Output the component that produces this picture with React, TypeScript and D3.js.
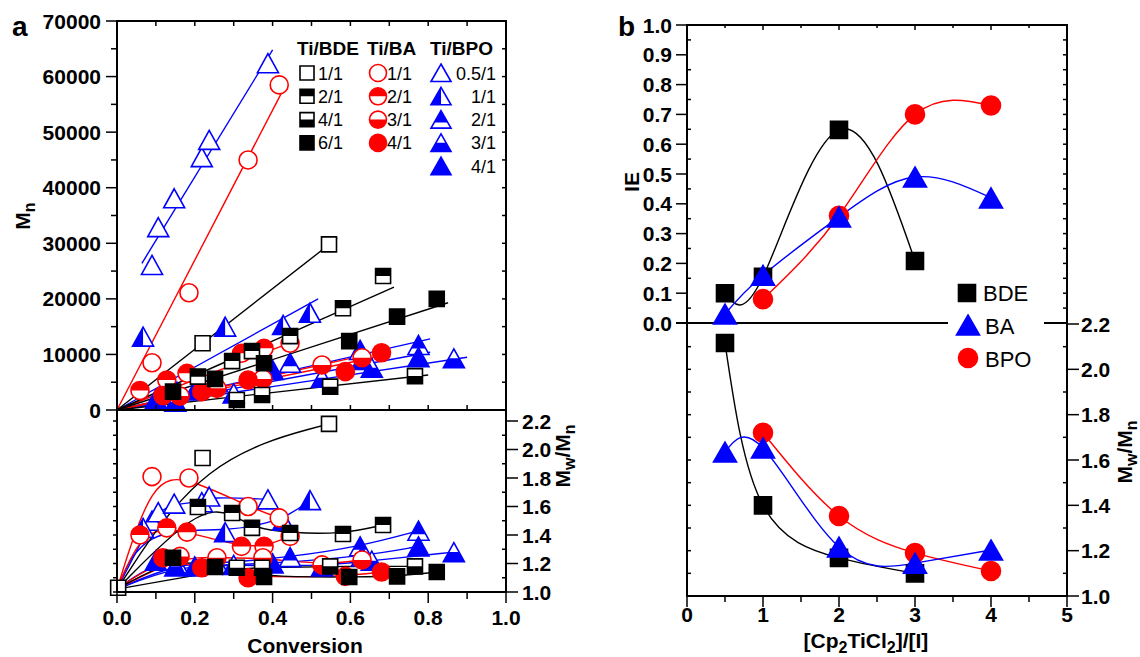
import React from 'react';
import * as d3 from 'd3';

const FONT = "'Liberation Sans', Arial, Helvetica, sans-serif";
const BLACK = '#000000';
const RED = '#ff0000';
const BLUE = '#0000ff';

// ---------------- Panel a data ----------------
// Ti/BDE
const bde11MnConv = [0.22, 0.545];
const bde11Mn = [12000, 29800];
const bde11Fit = [0, 0, 0.566, 30900];
const bde11PdiConv = [0.003, 0.22, 0.545];
const bde11Pdi = [1.03, 1.94, 2.18];

const bde21Conv = [0.208, 0.296, 0.347, 0.445, 0.581, 0.684];
const bde21Mn = [6000, 8800, 10600, 13300, 18300, 24100];
const bde21Fit = [0, 0, 0.712, 22100];
const bde21Pdi = [1.596, 1.554, 1.45, 1.414, 1.407, 1.47];

const bde41Conv = [0.308, 0.373, 0.548, 0.766];
const bde41Mn = [1800, 2700, 4200, 6100];
const bde41Fit = [0, 0, 0.8, 6300];
const bde41Pdi = [1.17, 1.17, 1.18, 1.18];

const bde61Conv = [0.144, 0.252, 0.378, 0.597, 0.72, 0.822];
const bde61Mn = [3300, 5600, 8400, 12400, 16800, 20000];
const bde61Fit = [0, 0, 0.851, 19300];
const bde61Pdi = [1.24, 1.175, 1.105, 1.105, 1.11, 1.14];

// Ti/BA
const ba11Conv = [0.09, 0.185, 0.337, 0.417];
const ba11Mn = [8500, 21100, 45000, 58500];
const ba11Fit = [0, 0, 0.427, 57600];
const ba11Pdi = [1.81, 1.8, 1.6, 1.52];

const ba21Conv = [0.059, 0.128, 0.18, 0.32, 0.378, 0.445];
const ba21Mn = [3500, 5400, 6600, 10200, 11100, 12000];
const ba21Fit = [0, 0, 0.46, 12500];
const ba21Pdi = [1.4, 1.45, 1.42, 1.32, 1.32, 1.39];

const ba31Conv = [0.162, 0.257, 0.375, 0.527, 0.63];
const ba31Mn = [2500, 3900, 5600, 8100, 9400];
const ba31Fit = [0, 0, 0.62, 9600];
const ba31Pdi = [1.25, 1.24, 1.24, 1.19, 1.225];

const ba41Conv = [0.118, 0.218, 0.337, 0.587, 0.68];
const ba41Mn = [2600, 3300, 5400, 6900, 10300];
const ba41Fit = [0, 0, 0.658, 9400];
const ba41Pdi = [1.24, 1.17, 1.1, 1.11, 1.14];

// Ti/BPO
const bpo051Conv = [0.09, 0.106, 0.147, 0.218, 0.237, 0.388];
const bpo051Mn = [26100, 32900, 38100, 45500, 48600, 62400];
const bpo051Fit = [0.064, 26400, 0.4, 64800];
const bpo051Pdi = [1.5, 1.56, 1.62, 1.63, 1.67, 1.65];

const bpo11Conv = [0.067, 0.278, 0.427, 0.496];
const bpo11Mn = [13200, 15000, 15300, 17500];
const bpo11Fit = [0, 0, 0.517, 20000];
const bpo11Pdi = [1.45, 1.42, 1.5, 1.645];

const bpo21Conv = [0.154, 0.257, 0.445, 0.625, 0.775];
const bpo21Mn = [3300, 5000, 8500, 10800, 11700];
const bpo21Fit = [0, 0, 0.805, 12800];
const bpo21Pdi = [1.2, 1.2, 1.245, 1.32, 1.43];

const bpo31Conv = [0.15, 0.3, 0.527, 0.655, 0.866];
const bpo31Mn = [1500, 3000, 5800, 7600, 9300];
const bpo31Fit = [0, 0, 0.9, 9500];
const bpo31Pdi = [1.18, 1.19, 1.18, 1.22, 1.28];

const bpo41Conv = [0.1, 0.2, 0.4, 0.63, 0.775];
const bpo41Mn = [2000, 3500, 7200, 9000, 9500];
const bpo41Fit = [0, 0, 0.805, 10400];
const bpo41Pdi = [1.22, 1.18, 1.2, 1.25, 1.32];

const PDI_START: [number, number] = [0, 1.02];

// ---------------- Panel b data ----------------
const bdeRatio = [0.5, 1, 2, 3];
const bdeIE = [0.1, 0.155, 0.648, 0.208];
const bdePdiB = [2.116, 1.4, 1.168, 1.1];
const baRatio = [0.5, 1, 2, 3, 4];
const baIE = [0.03, 0.16, 0.356, 0.49, 0.42];
const baPdiB = [1.635, 1.653, 1.216, 1.145, 1.203];
const bpoRatio = [1, 2, 3, 4];
const bpoIE = [0.08, 0.36, 0.7, 0.73];
const bpoPdiB = [1.72, 1.353, 1.19, 1.11];

// tick labels
const mnTicks = [0, 10000, 20000, 30000, 40000, 50000, 60000, 70000];
const convTicks = [0, 0.2, 0.4, 0.6, 0.8, 1.0];
const pdiTicks = [1.0, 1.2, 1.4, 1.6, 1.8, 2.0, 2.2];
const ieTicks = [0, 0.1, 0.2, 0.3, 0.4, 0.5, 0.6, 0.7, 0.8, 0.9, 1.0];
const ratioTicks = [0, 1, 2, 3, 4, 5];

type Kind = 'open' | 'full' | 'top' | 'bottom' | 'left' | 'top68';
type Shape = 'square' | 'circle' | 'triangle';

interface Series {
  color: string; shape: Shape; kind: Kind; label: string;
  mnConv: number[]; mn: number[]; fit: number[];
  pdiConv: number[]; pdi: number[];
}

const bdeSeries: Series[] = [
  { color: BLACK, shape: 'square', kind: 'open', label: '1/1', mnConv: bde11MnConv, mn: bde11Mn, fit: bde11Fit, pdiConv: bde11PdiConv, pdi: bde11Pdi },
  { color: BLACK, shape: 'square', kind: 'top', label: '2/1', mnConv: bde21Conv, mn: bde21Mn, fit: bde21Fit, pdiConv: bde21Conv, pdi: bde21Pdi },
  { color: BLACK, shape: 'square', kind: 'bottom', label: '4/1', mnConv: bde41Conv, mn: bde41Mn, fit: bde41Fit, pdiConv: bde41Conv, pdi: bde41Pdi },
  { color: BLACK, shape: 'square', kind: 'full', label: '6/1', mnConv: bde61Conv, mn: bde61Mn, fit: bde61Fit, pdiConv: bde61Conv, pdi: bde61Pdi },
];
const baSeries: Series[] = [
  { color: RED, shape: 'circle', kind: 'open', label: '1/1', mnConv: ba11Conv, mn: ba11Mn, fit: ba11Fit, pdiConv: ba11Conv, pdi: ba11Pdi },
  { color: RED, shape: 'circle', kind: 'top', label: '2/1', mnConv: ba21Conv, mn: ba21Mn, fit: ba21Fit, pdiConv: ba21Conv, pdi: ba21Pdi },
  { color: RED, shape: 'circle', kind: 'bottom', label: '3/1', mnConv: ba31Conv, mn: ba31Mn, fit: ba31Fit, pdiConv: ba31Conv, pdi: ba31Pdi },
  { color: RED, shape: 'circle', kind: 'full', label: '4/1', mnConv: ba41Conv, mn: ba41Mn, fit: ba41Fit, pdiConv: ba41Conv, pdi: ba41Pdi },
];
const bpoSeries: Series[] = [
  { color: BLUE, shape: 'triangle', kind: 'open', label: '0.5/1', mnConv: bpo051Conv, mn: bpo051Mn, fit: bpo051Fit, pdiConv: bpo051Conv, pdi: bpo051Pdi },
  { color: BLUE, shape: 'triangle', kind: 'left', label: '1/1', mnConv: bpo11Conv, mn: bpo11Mn, fit: bpo11Fit, pdiConv: bpo11Conv, pdi: bpo11Pdi },
  { color: BLUE, shape: 'triangle', kind: 'top68', label: '2/1', mnConv: bpo21Conv, mn: bpo21Mn, fit: bpo21Fit, pdiConv: bpo21Conv, pdi: bpo21Pdi },
  { color: BLUE, shape: 'triangle', kind: 'bottom', label: '3/1', mnConv: bpo31Conv, mn: bpo31Mn, fit: bpo31Fit, pdiConv: bpo31Conv, pdi: bpo31Pdi },
  { color: BLUE, shape: 'triangle', kind: 'full', label: '4/1', mnConv: bpo41Conv, mn: bpo41Mn, fit: bpo41Fit, pdiConv: bpo41Conv, pdi: bpo41Pdi },
];

// ---------------- scales ----------------
const xa = d3.scaleLinear().domain([0, 1]).range([117, 506]);
const yMn = d3.scaleLinear().domain([0, 70000]).range([410, 21]);
const yPdi = d3.scaleLinear().domain([1.0, 2.2]).range([592, 421]);
const xb = d3.scaleLinear().domain([0, 5]).range([687, 1067]);
const yIE = d3.scaleLinear().domain([0, 1]).range([323, 25]);
const yPdiB = d3.scaleLinear().domain([1.0, 2.2]).range([596, 324]);

function shapePath(shape: Shape, big: boolean): string {
  if (shape === 'square') {
    const s = big ? 17 : 15;
    return `M${-s / 2},${-s / 2}h${s}v${s}h${-s}Z`;
  }
  if (shape === 'circle') {
    const r = big ? 9.5 : 9;
    return `M${-r},0a${r},${r} 0 1,0 ${2 * r},0a${r},${r} 0 1,0 ${-2 * r},0Z`;
  }
  const w = big ? 23 : 21;
  const h = big ? 20 : 19;
  return `M0,${-h / 2}L${w / 2},${h / 2}L${-w / 2},${h / 2}Z`;
}

function legendPath(shape: Shape): string {
  if (shape === 'square') return `M-7,-7h14v14h-14Z`;
  if (shape === 'circle') return `M-8.5,0a8.5,8.5 0 1,0 17,0a8.5,8.5 0 1,0 -17,0Z`;
  return `M0,-9L10,8.5L-10,8.5Z`;
}

const clipId: Record<Kind, string | null> = {
  open: null, full: null, top: 'clipTop', bottom: 'clipBottom', left: 'clipLeft', top68: 'clipTop68',
};

function Marker({ x, y, d, color, kind }: { x: number; y: number; d: string; color: string; kind: Kind }) {
  const sw = 1.6;
  if (kind === 'full') {
    return <path transform={`translate(${x},${y})`} d={d} fill={color} stroke={color} strokeWidth={sw} />;
  }
  const cid = clipId[kind];
  return (
    <g transform={`translate(${x},${y})`}>
      <path d={d} fill="#ffffff" stroke="none" />
      {cid && <path d={d} fill={color} clipPath={`url(#${cid})`} />}
      <path d={d} fill="none" stroke={color} strokeWidth={sw} />
    </g>
  );
}

const zip = (a: number[], b: number[]): [number, number][] => a.map((v, i) => [v, b[i]]);

export default function App() {
  const allA = [...bpoSeries, ...baSeries, ...bdeSeries];
  const pdiLine = d3.line<[number, number]>().x(d => xa(d[0])).y(d => yPdi(d[1])).curve(d3.curveBasis);
  const ieLine = d3.line<[number, number]>().x(d => xb(d[0])).y(d => yIE(d[1])).curve(d3.curveNatural);
  const pdiBLine = d3.line<[number, number]>().x(d => xb(d[0])).y(d => yPdiB(d[1])).curve(d3.curveNatural);

  const axisStroke = { stroke: BLACK, strokeWidth: 2, fill: 'none' } as const;
  const tickStroke = { stroke: BLACK, strokeWidth: 1.5 } as const;
  const tickFont = { fontFamily: FONT, fontWeight: 700, fontSize: 21 } as const;
  const titleFont = { fontFamily: FONT, fontWeight: 700, fontSize: 21 } as const;

  const bSeries = [
    { color: BLACK, shape: 'square' as Shape, x: bdeRatio, ie: bdeIE, pdi: bdePdiB, name: 'BDE' },
    { color: BLUE, shape: 'triangle' as Shape, x: baRatio, ie: baIE, pdi: baPdiB, name: 'BA' },
    { color: RED, shape: 'circle' as Shape, x: bpoRatio, ie: bpoIE, pdi: bpoPdiB, name: 'BPO' },
  ];
  const bDrawOrder = [bSeries[0], bSeries[2], bSeries[1]];

  return (
    <svg width={1140} height={657} style={{ position: 'absolute', left: 0, top: 0, background: '#ffffff' }}>
      <defs>
        <clipPath id="clipTop" clipPathUnits="objectBoundingBox"><rect x={0} y={0} width={1} height={0.5} /></clipPath>
        <clipPath id="clipBottom" clipPathUnits="objectBoundingBox"><rect x={0} y={0.5} width={1} height={0.5} /></clipPath>
        <clipPath id="clipLeft" clipPathUnits="objectBoundingBox"><rect x={0} y={0} width={0.5} height={1} /></clipPath>
        <clipPath id="clipTop68" clipPathUnits="objectBoundingBox"><rect x={0} y={0} width={1} height={0.68} /></clipPath>
      </defs>
      <rect x={0} y={0} width={1140} height={657} fill="#ffffff" />

      {/* ================= Panel a ================= */}
      {allA.map((s, i) => (
        <line key={`fit${i}`} x1={xa(s.fit[0])} y1={yMn(s.fit[1])} x2={xa(s.fit[2])} y2={yMn(s.fit[3])}
          stroke={s.color} strokeWidth={1.4} />
      ))}
      {allA.map((s, i) => {
        const pts = zip(s.pdiConv, s.pdi);
        const full = pts[0][0] < 0.01 ? pts : [PDI_START, ...pts];
        return <path key={`pc${i}`} d={pdiLine(full) || ''} fill="none" stroke={s.color} strokeWidth={1.4} />;
      })}
      {allA.map((s, i) => (
        <g key={`mm${i}`}>
          {s.mnConv.map((c, j) => (
            <Marker key={j} x={xa(c)} y={yMn(s.mn[j])} d={shapePath(s.shape, false)} color={s.color} kind={s.kind} />
          ))}
        </g>
      ))}
      {allA.map((s, i) => (
        <g key={`pm${i}`}>
          {s.pdiConv.map((c, j) => (
            <Marker key={j} x={xa(c)} y={yPdi(s.pdi[j])} d={shapePath(s.shape, false)} color={s.color} kind={s.kind} />
          ))}
        </g>
      ))}

      {/* frame a */}
      <line x1={117} y1={21} x2={117} y2={592} {...axisStroke} />
      <line x1={506} y1={21} x2={506} y2={592} {...axisStroke} />
      <line x1={116} y1={21} x2={507} y2={21} {...axisStroke} />
      <line x1={116} y1={410} x2={507} y2={410} {...axisStroke} />
      <line x1={116} y1={592} x2={507} y2={592} {...axisStroke} />

      {d3.range(0, 70001, 5000).map(v => (
        <line key={`lm${v}`} x1={117} x2={v % 10000 === 0 ? 106 : 111} y1={yMn(v)} y2={yMn(v)} {...tickStroke} />
      ))}
      {mnTicks.map(v => (
        <text key={`lmt${v}`} x={101} y={yMn(v) + 7.5} textAnchor="end" {...tickFont}>{v}</text>
      ))}
      {d3.range(5000, 70000, 5000).map(v => (
        <line key={`rm${v}`} x1={506} x2={502} y1={yMn(v)} y2={yMn(v)} {...tickStroke} />
      ))}
      {d3.range(0.1, 1.0, 0.1).map(v => (
        <g key={`tt${v}`}>
          <line x1={xa(v)} x2={xa(v)} y1={21} y2={26} {...tickStroke} />
          <line x1={xa(v)} x2={xa(v)} y1={410} y2={405} {...tickStroke} />
        </g>
      ))}
      {d3.range(1.0, 2.25, 0.1).map(v => (
        <line key={`lb${v}`} x1={117} x2={113} y1={yPdi(v)} y2={yPdi(v)} {...tickStroke} />
      ))}
      {d3.range(0, 1.0001, 0.1).map((v, i) => (
        <line key={`bx${i}`} x1={xa(v)} x2={xa(v)} y1={592} y2={i % 2 === 0 ? 603 : 599} {...tickStroke} />
      ))}
      {convTicks.map(v => (
        <text key={`bxt${v}`} x={xa(v)} y={625} textAnchor="middle" {...tickFont}>{v.toFixed(1)}</text>
      ))}
      {d3.range(1.0, 2.25, 0.1).map((v, i) => (
        i % 2 === 0
          ? <line key={`rp${i}`} x1={506} x2={518} y1={yPdi(v)} y2={yPdi(v)} {...tickStroke} />
          : <line key={`rp${i}`} x1={506} x2={502} y1={yPdi(v)} y2={yPdi(v)} {...tickStroke} />
      ))}
      {pdiTicks.map(v => (
        <text key={`rpt${v}`} x={522} y={yPdi(v) + 7.5} textAnchor="start" {...tickFont}>{v.toFixed(1)}</text>
      ))}

      {/* titles a */}
      <text x={12} y={36} fontFamily={FONT} fontWeight={700} fontSize={28}>a</text>
      <text x={305} y={653} textAnchor="middle" {...titleFont}>Conversion</text>
      <text transform="translate(30,216) rotate(-90)" textAnchor="middle" {...titleFont}>
        M<tspan dy={5} fontSize={16}>n</tspan>
      </text>
      <text transform="translate(570,456) rotate(-90)" textAnchor="middle" {...titleFont}>
        M<tspan dy={5} fontSize={16}>w</tspan><tspan dy={-5}>/M</tspan><tspan dy={5} fontSize={16}>n</tspan>
      </text>

      {/* legend a */}
      <text x={297} y={55} fontFamily={FONT} fontWeight={700} fontSize={19}>Ti/BDE</text>
      <text x={367} y={55} fontFamily={FONT} fontWeight={700} fontSize={19}>Ti/BA</text>
      <text x={430} y={55} fontFamily={FONT} fontWeight={700} fontSize={19}>Ti/BPO</text>
      {bdeSeries.map((s, i) => (
        <g key={`lgd${i}`}>
          <Marker x={307} y={73 + i * 23.3} d={legendPath(s.shape)} color={s.color} kind={s.kind} />
          <text x={318} y={73 + i * 23.3 + 6.5} fontFamily={FONT} fontSize={18}>{s.label}</text>
        </g>
      ))}
      {baSeries.map((s, i) => (
        <g key={`lga${i}`}>
          <Marker x={378} y={73 + i * 23.3} d={legendPath(s.shape)} color={s.color} kind={s.kind} />
          <text x={387} y={73 + i * 23.3 + 6.5} fontFamily={FONT} fontSize={18}>{s.label}</text>
        </g>
      ))}
      {bpoSeries.map((s, i) => (
        <g key={`lgp${i}`}>
          <Marker x={441} y={73 + i * 23.3} d={legendPath(s.shape)} color={s.color} kind={s.kind} />
          <text x={496} y={73 + i * 23.3 + 6.5} textAnchor="end" fontFamily={FONT} fontSize={18}>{s.label}</text>
        </g>
      ))}

      {/* ================= Panel b ================= */}
      <line x1={687} y1={25} x2={687} y2={596} {...axisStroke} />
      <line x1={1067} y1={25} x2={1067} y2={596} {...axisStroke} />
      <line x1={686} y1={25} x2={1068} y2={25} {...axisStroke} />
      <line x1={676} y1={323} x2={1068} y2={323} {...axisStroke} />
      <line x1={686} y1={596} x2={1068} y2={596} {...axisStroke} />

      {bDrawOrder.map((s, i) => (
        <g key={`bc${i}`}>
          <path d={ieLine(zip(s.x, s.ie)) || ''} fill="none" stroke={s.color} strokeWidth={1.4} />
          <path d={pdiBLine(zip(s.x, s.pdi)) || ''} fill="none" stroke={s.color} strokeWidth={1.4} />
        </g>
      ))}
      {bDrawOrder.map((s, i) => (
        <g key={`bm${i}`}>
          {s.x.map((v, j) => (
            <g key={j}>
              <Marker x={xb(v)} y={yIE(s.ie[j])} d={shapePath(s.shape, true)} color={s.color} kind="full" />
              <Marker x={xb(v)} y={yPdiB(s.pdi[j])} d={shapePath(s.shape, true)} color={s.color} kind="full" />
            </g>
          ))}
        </g>
      ))}

      {d3.range(0, 1.0001, 0.05).map((v, i) => (
        i % 2 === 0
          ? <line key={`li${i}`} x1={687} x2={676} y1={yIE(v)} y2={yIE(v)} {...tickStroke} />
          : <line key={`li${i}`} x1={687} x2={691} y1={yIE(v)} y2={yIE(v)} {...tickStroke} />
      ))}
      {ieTicks.map(v => (
        <text key={`lit${v}`} x={672} y={yIE(v) + 7.5} textAnchor="end" {...tickFont}>{v.toFixed(1)}</text>
      ))}
      {d3.range(0.05, 1.0, 0.05).map((v, i) => (
        <line key={`ri${i}`} x1={1067} x2={1063} y1={yIE(v)} y2={yIE(v)} {...tickStroke} />
      ))}
      {d3.range(1.0, 2.15, 0.1).map((v, i) => (
        <line key={`llb${i}`} x1={687} x2={691} y1={yPdiB(v)} y2={yPdiB(v)} {...tickStroke} />
      ))}
      {d3.range(1.0, 2.25, 0.1).map((v, i) => (
        i % 2 === 0
          ? <line key={`rlb${i}`} x1={1067} x2={1079} y1={yPdiB(v)} y2={yPdiB(v)} {...tickStroke} />
          : <line key={`rlb${i}`} x1={1067} x2={1063} y1={yPdiB(v)} y2={yPdiB(v)} {...tickStroke} />
      ))}
      {pdiTicks.map(v => (
        <text key={`rlbt${v}`} x={1081} y={yPdiB(v) + 7.5} textAnchor="start" {...tickFont}>{v.toFixed(1)}</text>
      ))}
      {d3.range(0.5, 5, 0.5).map((v, i) => (
        <line key={`tb${i}`} x1={xb(v)} x2={xb(v)} y1={25} y2={i % 2 === 1 ? 30 : 28} {...tickStroke} />
      ))}
      {d3.range(0, 5.001, 0.5).map((v, i) => (
        <line key={`bb${i}`} x1={xb(v)} x2={xb(v)} y1={596} y2={i % 2 === 0 ? 607 : 602} {...tickStroke} />
      ))}
      {ratioTicks.map(v => (
        <text key={`bbt${v}`} x={xb(v)} y={622} textAnchor="middle" {...tickFont}>{v}</text>
      ))}

      {/* legend b */}
      <rect x={948} y={272} width={96} height={104} fill="#ffffff" />
      {bSeries.map((s, i) => (
        <g key={`lb${i}`}>
          <Marker x={967 + (i === 0 ? 0 : 1)} y={[293, 325, 358][i]} d={shapePath(s.shape, true)} color={s.color} kind="full" />
          <text x={i === 0 ? 983 : 985} y={[301, 334, 367][i]} fontFamily={FONT} fontSize={22}>{s.name}</text>
        </g>
      ))}

      {/* titles b */}
      <text x={618} y={36} fontFamily={FONT} fontWeight={700} fontSize={28}>b</text>
      <text transform="translate(639,182) rotate(-90)" textAnchor="middle" {...titleFont}>IE</text>
      <text x={866} y={648} textAnchor="middle" {...titleFont}>
        [Cp<tspan dy={5} fontSize={16}>2</tspan><tspan dy={-5}>TiCl</tspan><tspan dy={5} fontSize={16}>2</tspan><tspan dy={-5}>]/[I]</tspan>
      </text>
      <text transform="translate(1132,452) rotate(-90)" textAnchor="middle" {...titleFont}>
        M<tspan dy={5} fontSize={16}>w</tspan><tspan dy={-5}>/M</tspan><tspan dy={5} fontSize={16}>n</tspan>
      </text>
    </svg>
  );
}
